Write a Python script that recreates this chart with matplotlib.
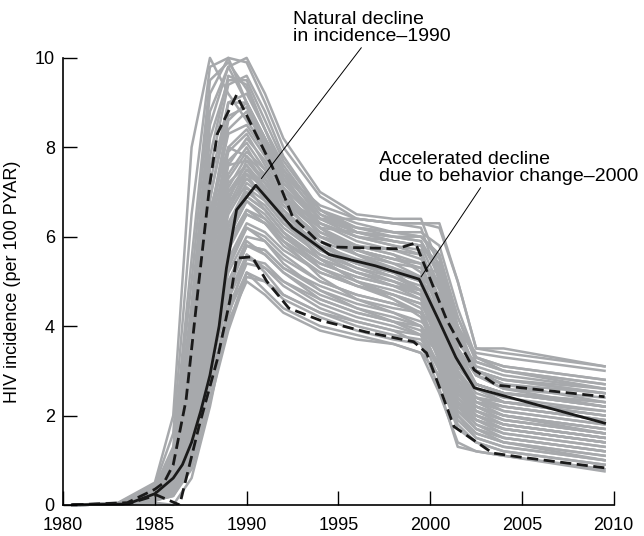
import matplotlib
matplotlib.use("Agg")
import matplotlib.pyplot as plt
import numpy as np

plt.rcParams['font.family'] = ['Liberation Sans', 'DejaVu Sans']

# ---------------- data ----------------
# knot years shared by the gray simulation curves
knots = [1980.5, 1983, 1985, 1986, 1987, 1988, 1989, 1990, 1991, 1992,
         1994, 1996, 1998, 1999.5, 2000.5, 2001.5, 2002.5, 2004, 2009.5]

gray_runs = [
    [0, .05, .5, 2.0, 8.0, 10.0, 9.2, 8.6, 8.0, 7.4, 6.7, 6.4, 6.3, 6.2, 5.0, 3.6, 3.2, 3.0, 2.7],
    [0, .04, .45, 1.6, 6.5, 9.8, 10.0, 9.0, 8.2, 7.5, 6.6, 6.3, 6.1, 6.0, 5.6, 4.0, 3.3, 3.1, 2.8],
    [0, .03, .4, 1.2, 5.0, 9.2, 10.0, 9.9, 9.0, 8.0, 6.9, 6.4, 6.3, 6.3, 6.2, 5.0, 3.5, 3.4, 3.1],
    [0, .03, .35, 1.0, 4.2, 8.5, 9.8, 10.0, 9.2, 8.2, 7.0, 6.5, 6.4, 6.4, 5.3, 3.9, 3.4, 3.3, 3.0],
    [0, .03, .3, 0.9, 3.6, 7.5, 9.4, 9.6, 8.8, 7.8, 6.6, 6.1, 5.9, 5.8, 5.4, 4.0, 3.0, 2.8, 2.5],
    [0, .02, .3, 0.8, 3.2, 6.8, 9.0, 9.2, 8.4, 7.5, 6.4, 6.0, 5.8, 5.7, 4.6, 3.2, 2.7, 2.5, 2.3],
    [0, .02, .3, 0.8, 3.0, 6.2, 8.4, 8.8, 8.0, 7.2, 6.3, 5.9, 5.7, 5.5, 4.9, 3.5, 2.9, 2.6, 2.4],
    [0, .02, .25, 0.7, 2.8, 5.8, 7.9, 8.3, 7.6, 6.9, 6.1, 5.7, 5.5, 5.3, 4.3, 3.1, 2.6, 2.4, 2.1],
    [0, .02, .25, 0.7, 2.6, 5.4, 7.4, 8.0, 7.3, 6.7, 6.0, 5.7, 5.5, 5.4, 5.0, 3.8, 2.9, 2.6, 2.2],
    [0, .02, .25, 0.6, 2.4, 5.0, 7.0, 7.6, 7.1, 6.5, 5.8, 5.5, 5.3, 5.1, 4.2, 2.9, 2.4, 2.2, 1.9],
    [0, .02, .2, 0.6, 2.2, 4.7, 6.6, 7.3, 6.9, 6.4, 5.8, 5.4, 5.2, 5.0, 4.6, 3.3, 2.6, 2.3, 2.0],
    [0, .02, .2, 0.55, 2.0, 4.4, 6.3, 7.0, 6.7, 6.2, 5.6, 5.3, 5.1, 4.9, 3.9, 2.7, 2.2, 2.0, 1.7],
    [0, .01, .2, 0.5, 1.9, 4.2, 6.0, 6.8, 6.5, 6.0, 5.5, 5.2, 5.0, 4.8, 4.4, 3.0, 2.4, 2.1, 1.8],
    [0, .01, .2, 0.5, 1.8, 4.0, 5.8, 6.5, 6.3, 5.9, 5.4, 5.1, 4.9, 4.7, 3.6, 2.4, 2.0, 1.8, 1.5],
    [0, .01, .15, 0.45, 1.6, 3.7, 5.5, 6.3, 6.1, 5.7, 5.2, 4.9, 4.7, 4.5, 4.1, 2.8, 2.2, 1.9, 1.6],
    [0, .01, .15, 0.4, 1.5, 3.5, 5.2, 6.0, 5.9, 5.5, 5.0, 4.7, 4.5, 4.3, 3.3, 2.2, 1.8, 1.6, 1.3],
    [0, .01, .15, 0.4, 1.4, 3.2, 4.9, 5.8, 5.7, 5.3, 4.8, 4.5, 4.3, 4.1, 3.8, 2.6, 2.0, 1.7, 1.4],
    [0, .01, .1, 0.3, 1.2, 3.0, 4.6, 5.5, 5.4, 5.0, 4.5, 4.2, 4.0, 3.8, 3.0, 2.0, 1.6, 1.4, 1.1],
    [0, .01, .1, 0.3, 1.1, 2.8, 4.3, 5.2, 5.0, 4.6, 4.2, 3.9, 3.7, 3.6, 3.2, 2.2, 1.7, 1.4, 1.1],
    [0, .01, .1, 0.25, 1.0, 2.6, 4.1, 5.0, 4.7, 4.3, 3.9, 3.7, 3.6, 3.4, 2.5, 1.4, 1.2, 1.1, 0.8],
    [0, .01, .1, 0.2, 0.9, 2.4, 4.0, 5.2, 4.8, 4.4, 4.0, 3.8, 3.6, 3.4, 2.9, 1.8, 1.4, 1.2, 0.9],
    [0, .01, .05, 0.0, 0.6, 2.2, 4.2, 5.6, 5.2, 4.7, 4.3, 4.1, 3.9, 3.6, 2.6, 1.3, 1.2, 1.1, 0.75],
    [0, .02, .3, 0.9, 3.4, 6.6, 8.0, 7.8, 7.2, 6.8, 6.4, 6.4, 6.3, 6.3, 6.3, 5.0, 3.5, 3.5, 3.1],
    [0, .02, .3, 0.8, 3.0, 6.0, 7.6, 7.7, 7.3, 6.8, 6.2, 6.1, 6.0, 6.0, 5.5, 4.2, 3.2, 3.0, 2.6],
    [0, .02, .25, 0.7, 2.6, 5.4, 7.2, 7.6, 7.0, 6.5, 6.0, 5.8, 5.6, 5.2, 3.8, 2.6, 2.3, 2.2, 1.9],
    [0, .02, .25, 0.65, 2.4, 5.2, 7.0, 7.4, 6.8, 6.3, 5.6, 5.2, 4.9, 4.6, 3.5, 2.5, 2.1, 1.9, 1.6],
    [0, .02, .25, 0.6, 2.3, 5.0, 6.8, 7.1, 6.6, 6.1, 5.5, 5.0, 4.6, 4.2, 3.2, 2.1, 1.7, 1.5, 1.2],
    [0, .02, .3, 0.75, 2.9, 6.4, 8.6, 9.0, 8.2, 7.3, 6.2, 5.6, 5.2, 4.8, 3.7, 2.6, 2.2, 2.0, 1.7],
    [0, .02, .3, 0.9, 3.6, 7.8, 9.6, 9.4, 8.4, 7.4, 6.2, 5.7, 5.4, 5.1, 4.7, 3.4, 2.7, 2.5, 2.2],
    [0, .03, .35, 1.1, 4.5, 8.8, 9.8, 9.0, 8.0, 7.1, 6.0, 5.6, 5.3, 5.0, 3.9, 2.8, 2.4, 2.3, 2.0],
    [0, .02, .2, 0.5, 2.0, 4.6, 6.6, 7.4, 7.1, 6.6, 5.9, 5.6, 5.4, 5.3, 5.2, 4.0, 3.0, 2.7, 2.3],
    [0, .02, .2, 0.5, 1.7, 3.9, 5.9, 6.6, 6.3, 5.9, 5.3, 5.0, 4.8, 4.6, 4.0, 2.8, 2.3, 2.0, 1.6],
    [0, .01, .15, 0.35, 1.3, 3.3, 5.0, 5.9, 5.6, 5.2, 4.6, 4.3, 4.1, 3.9, 3.1, 2.0, 1.6, 1.4, 1.0],
    [0, .02, .25, 0.7, 2.7, 5.6, 7.6, 8.2, 7.7, 7.0, 6.2, 5.8, 5.7, 5.6, 4.8, 3.3, 2.7, 2.5, 2.3],
    [0, .02, .25, 0.6, 2.2, 4.8, 6.8, 7.7, 7.2, 6.6, 5.7, 5.3, 5.0, 4.7, 3.6, 2.4, 2.0, 1.8, 1.5],
    [0, .01, .2, 0.5, 1.8, 4.1, 6.1, 6.9, 6.6, 6.1, 5.3, 4.9, 4.6, 4.3, 3.3, 2.2, 1.9, 1.7, 1.4],
    [0, .02, .3, 0.85, 3.3, 6.9, 8.7, 8.9, 8.1, 7.3, 6.4, 6.1, 6.0, 5.9, 5.1, 3.7, 3.0, 2.8, 2.6],
    [0, .02, .28, 0.75, 2.9, 6.1, 8.0, 8.4, 7.8, 7.1, 6.3, 6.0, 5.8, 5.6, 4.5, 3.2, 2.7, 2.5, 2.2],
    [0, .02, .22, 0.6, 2.3, 5.1, 7.1, 7.8, 7.4, 6.8, 6.1, 5.8, 5.6, 5.4, 4.4, 3.0, 2.5, 2.3, 2.1],
    [0, .02, .22, 0.55, 2.1, 4.6, 6.5, 7.2, 6.9, 6.4, 5.7, 5.4, 5.2, 5.0, 4.1, 2.9, 2.4, 2.2, 1.9],
    [0, .01, .18, 0.5, 1.9, 4.3, 6.2, 6.9, 6.6, 6.1, 5.5, 5.2, 5.0, 4.8, 4.0, 2.7, 2.2, 2.0, 1.7],
    [0, .01, .17, 0.45, 1.7, 3.9, 5.7, 6.5, 6.3, 5.8, 5.2, 4.9, 4.7, 4.5, 3.7, 2.5, 2.0, 1.8, 1.5],
    [0, .01, .15, 0.4, 1.5, 3.6, 5.4, 6.2, 6.0, 5.6, 5.0, 4.7, 4.5, 4.3, 3.5, 2.3, 1.9, 1.7, 1.4],
    [0, .01, .13, 0.35, 1.3, 3.2, 5.0, 5.8, 5.6, 5.2, 4.7, 4.4, 4.2, 4.0, 3.3, 2.1, 1.7, 1.5, 1.2],
    [0, .01, .12, 0.3, 1.2, 3.0, 4.7, 5.6, 5.3, 4.9, 4.4, 4.1, 3.9, 3.8, 3.4, 2.3, 1.8, 1.5, 1.2],
    [0, .02, .3, 0.8, 3.1, 6.5, 8.3, 8.5, 7.9, 7.2, 6.4, 6.2, 6.1, 6.1, 5.8, 4.4, 3.3, 3.1, 2.8],
    [0, .02, .25, 0.7, 2.6, 5.5, 7.3, 7.9, 7.5, 6.9, 6.3, 6.0, 5.9, 5.8, 5.3, 3.9, 3.0, 2.8, 2.5],
    [0, .02, .2, 0.55, 2.1, 4.7, 6.7, 7.5, 7.2, 6.7, 6.0, 5.7, 5.5, 5.4, 4.9, 3.5, 2.7, 2.5, 2.2],
    [0, .01, .18, 0.5, 1.9, 4.3, 6.3, 7.1, 6.8, 6.3, 5.7, 5.4, 5.2, 5.1, 4.7, 3.3, 2.6, 2.3, 2.0],
    [0, .01, .15, 0.4, 1.6, 3.8, 5.7, 6.6, 6.4, 6.0, 5.4, 5.1, 4.9, 4.8, 4.3, 3.0, 2.3, 2.1, 1.8],
    [0, .01, .12, 0.3, 1.2, 3.1, 4.8, 5.8, 5.7, 5.3, 4.9, 4.6, 4.4, 4.3, 3.9, 2.7, 2.1, 1.8, 1.5],
    [0, .01, .1, 0.25, 1.0, 2.7, 4.4, 5.4, 5.3, 5.0, 4.6, 4.3, 4.1, 4.0, 3.5, 2.4, 1.9, 1.6, 1.3],
    [0, .01, .1, 0.2, 0.8, 2.3, 3.9, 5.1, 5.0, 4.7, 4.3, 4.0, 3.8, 3.7, 3.1, 2.0, 1.5, 1.3, 1.0],
    [0, .03, .4, 1.3, 5.5, 9.5, 9.9, 9.3, 8.4, 7.6, 6.5, 6.1, 5.9, 5.8, 4.9, 3.5, 2.9, 2.7, 2.5],
    [0, .03, .35, 1.0, 4.0, 8.2, 9.5, 9.5, 8.6, 7.7, 6.6, 6.2, 6.0, 5.9, 5.2, 3.8, 3.1, 2.9, 2.6],
    [0, .02, .3, 0.9, 3.5, 7.2, 9.0, 9.0, 8.2, 7.4, 6.5, 6.2, 6.1, 6.0, 5.6, 4.2, 3.3, 3.0, 2.7],
    [0, .02, .25, 0.7, 2.7, 5.7, 7.7, 8.1, 7.5, 6.8, 5.9, 5.4, 5.1, 4.8, 3.8, 2.6, 2.1, 1.9, 1.6],
    [0, .02, .2, 0.6, 2.2, 4.9, 6.9, 7.5, 7.0, 6.4, 5.5, 5.0, 4.7, 4.4, 3.4, 2.3, 1.9, 1.7, 1.4],
    [0, .01, .15, 0.45, 1.7, 4.0, 6.0, 6.8, 6.4, 5.9, 5.1, 4.6, 4.3, 4.0, 3.0, 1.9, 1.5, 1.3, 1.0],
    [0, .01, .12, 0.35, 1.4, 3.4, 5.3, 6.2, 5.9, 5.4, 4.8, 4.4, 4.1, 3.8, 2.8, 1.7, 1.4, 1.2, 0.9],
]

# median of the runs
med_years = [1980.5, 1983.5, 1985, 1986, 1986.5, 1987, 1987.5, 1988, 1988.5, 1988.9,
             1989.45, 1990.5, 1992.5, 1994.5, 1997, 1999.4, 2000.5, 2001.4, 2002.4, 2009.5]
med_vals = [0, 0.02, 0.25, 0.6, 0.9, 1.4, 2.1, 2.9, 4.0, 5.3,
            6.6, 7.15, 6.2, 5.6, 5.35, 5.05, 4.1, 3.3, 2.62, 1.83]

# upper bound
hi_years = [1980.5, 1983.5, 1985, 1985.5, 1986, 1986.7, 1987.4, 1988, 1988.4, 1989.45,
            1991.4, 1992.5, 1993.8, 1994.7, 1998.2, 1999.2, 2000.9, 2002.4, 2003.6, 2009.5]
hi_vals = [0, 0.05, 0.35, 0.5, 0.9, 2.35, 5.0, 7.2, 8.3, 9.17,
           7.56, 6.45, 5.93, 5.77, 5.73, 5.86, 4.14, 3.02, 2.68, 2.42]

# lower bound
lo_years = [1980.5, 1983.5, 1985.1, 1986.35, 1987.4, 1988.4, 1989.1, 1989.45, 1990.3, 1991.1,
            1992.3, 1994, 1996.5, 1999.1, 1999.8, 2000.5, 2001.3, 2003.4, 2004.9, 2009.5]
lo_vals = [0, 0.02, 0.22, 0.0, 1.75, 3.25, 4.6, 5.52, 5.55, 5.0,
           4.4, 4.13, 3.87, 3.65, 3.4, 2.64, 1.75, 1.16, 1.07, 0.83]

xticks = [1980, 1985, 1990, 1995, 2000, 2005, 2010]
yticks = [0, 2, 4, 6, 8, 10]

# ---------------- figure ----------------
fig = plt.figure(figsize=(6.44, 5.36), dpi=100)
ax = fig.add_axes([0.098, 0.058, 0.855, 0.834])

for run in gray_runs:
    ax.plot(knots, run, color='#a7a9ac', lw=1.8, zorder=1, clip_on=False)

ax.plot(hi_years, hi_vals, color='#1a1a1a', lw=2.0, ls=(0, (4, 2)), zorder=3)
ax.plot(lo_years, lo_vals, color='#1a1a1a', lw=2.0, ls=(0, (4, 2)), zorder=3)
ax.plot(med_years, med_vals, color='#1a1a1a', lw=2.0, zorder=4)

# annotations
ax.annotate('Natural decline\nin incidence\u20131990', xy=(1990.8, 7.3), xytext=(1992.5, 10.38),
            fontsize=14, ha='left', va='baseline', linespacing=0.98, annotation_clip=False,
            arrowprops=dict(arrowstyle='-', lw=0.7, color='black', shrinkA=0, shrinkB=0,
                            relpos=(0.45, 0.0)))
ax.annotate('Accelerated decline\ndue to behavior change\u20132000', xy=(1999.5, 5.1),
            xytext=(1997.2, 7.25), fontsize=14, ha='left', va='baseline', linespacing=0.98,
            annotation_clip=False,
            arrowprops=dict(arrowstyle='-', lw=0.7, color='black', shrinkA=0, shrinkB=0,
                            relpos=(0.4, 0.0)))

ax.set_xlim(1980, 2010)
ax.set_ylim(0, 10)
ax.set_xticks(xticks)
ax.set_yticks(yticks)
ax.tick_params(direction='in', length=10, width=1.0, labelsize=13, color='black')
ax.tick_params(axis='x', pad=9)
ax.tick_params(axis='y', pad=6)
for s in ['top', 'right']:
    ax.spines[s].set_visible(False)
for s in ['left', 'bottom']:
    ax.spines[s].set_linewidth(1.2)
    ax.spines[s].set_zorder(5)

ax.set_ylabel('HIV incidence (per 100 PYAR)', fontsize=13, labelpad=10)

fig.savefig('out.png', dpi=100)
